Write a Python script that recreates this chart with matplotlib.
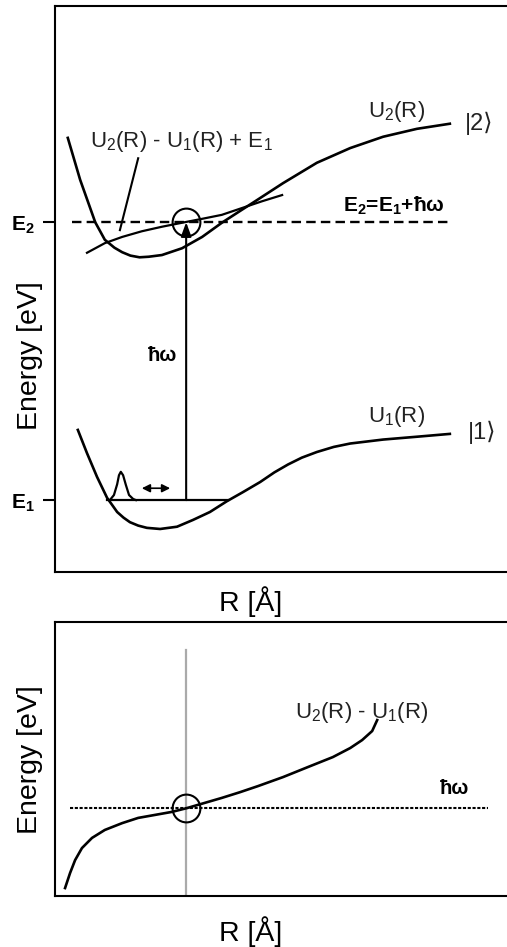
import matplotlib
matplotlib.use("Agg")
import matplotlib.pyplot as plt

plt.rcParams["font.family"] = ["Liberation Sans", "DejaVu Sans"]
plt.rcParams["mathtext.fontset"] = "custom"
plt.rcParams["mathtext.rm"] = "Liberation Sans"
plt.rcParams["mathtext.bf"] = "Liberation Sans:bold"

HBAR_OMEGA = "\u0127\u03c9"

# potential curves, arbitrary units (R along x, energy along y)
r_u2 = [0.28, 0.55, 0.88, 1.09, 1.30, 1.47, 1.65, 1.85, 2.05, 2.34, 2.78, 3.22, 3.65, 4.09, 4.38, 4.99, 5.73, 6.46, 7.18, 7.92, 8.64]
u2 = [7.67, 6.93, 6.18, 5.87, 5.73, 5.65, 5.59, 5.56, 5.57, 5.60, 5.72, 5.92, 6.17, 6.40, 6.55, 6.87, 7.23, 7.49, 7.69, 7.83, 7.92]

r_u1 = [0.50, 0.70, 0.92, 1.14, 1.36, 1.50, 1.64, 1.82, 2.01, 2.30, 2.67, 3.02, 3.39, 3.76, 4.11, 4.49, 4.80, 5.10, 5.40, 5.73, 6.10, 6.46, 7.18, 7.92, 8.64]
u1 = [2.51, 2.10, 1.68, 1.31, 1.06, 0.96, 0.88, 0.82, 0.78, 0.76, 0.80, 0.92, 1.06, 1.25, 1.41, 1.59, 1.76, 1.90, 2.02, 2.12, 2.21, 2.27, 2.34, 2.39, 2.44]

r_diff = [0.70, 1.09, 1.47, 1.90, 2.34, 2.84, 3.22, 3.65, 4.09, 4.53, 4.97]
u_diff = [5.64, 5.81, 5.92, 6.02, 6.10, 6.18, 6.24, 6.31, 6.43, 6.55, 6.66]

# vibrational wave packet sitting on E1
r_packet = [1.20, 1.29, 1.36, 1.40, 1.44, 1.49, 1.55, 1.62, 1.71, 1.77]
e_packet = [1.27, 1.36, 1.55, 1.71, 1.77, 1.71, 1.54, 1.36, 1.29, 1.27]

E1 = 1.27
E2 = 6.18
R0 = 2.87
e1_span = [1.14, 3.78]
e2_span = [0.37, 8.69]

# lower panel: difference potential U2 - U1
r_gap = [0.22, 0.33, 0.44, 0.59, 0.81, 1.09, 1.47, 1.82, 2.19, 2.56, 2.89, 3.28, 3.65, 4.05, 4.44, 4.99, 5.54, 6.08, 6.46, 6.72, 6.94, 7.05]
gap = [0.29, 0.84, 1.31, 1.75, 2.12, 2.41, 2.66, 2.85, 2.96, 3.07, 3.21, 3.40, 3.58, 3.79, 4.01, 4.34, 4.71, 5.07, 5.40, 5.69, 6.02, 6.42]
HW = 3.21
hw_span = [0.33, 9.47]

fig = plt.figure(figsize=(5.07, 9.47), dpi=100)
ax1 = fig.add_axes([55 / 507, 375 / 947, 457 / 507, 566 / 947])
ax2 = fig.add_axes([55 / 507, 51 / 947, 457 / 507, 274 / 947])

lw = 1.9
for ax in (ax1, ax2):
    ax.set_xlim(0, 10)
    ax.set_ylim(0, 10)
    ax.spines["right"].set_visible(False)
    for s in ("top", "left", "bottom"):
        ax.spines[s].set_linewidth(1.5)
    ax.set_xticks([])

# ---- top panel ----
ax1.plot(r_u2, u2, color="k", lw=lw)
ax1.plot(r_u1, u1, color="k", lw=lw)
ax1.plot(r_diff, u_diff, color="k", lw=1.6)
ax1.plot(e2_span, [E2, E2], color="k", lw=1.7, linestyle=(0, (4, 2.2)))
ax1.plot(e1_span, [E1, E1], color="k", lw=1.6)
ax1.plot(r_packet, e_packet, color="k", lw=1.6)
ax1.plot([R0], [E2], "o", ms=20, mfc="none", mec="k", mew=1.5)
ax1.annotate("", xy=(R0, E2), xytext=(R0, E1),
             arrowprops=dict(arrowstyle="-|>,head_length=0.6,head_width=0.22",
                             lw=1.5, color="k", mutation_scale=14, shrinkA=0, shrinkB=0))
ax1.annotate("", xy=(2.52, 1.48), xytext=(1.90, 1.48),
             arrowprops=dict(arrowstyle="<|-|>,head_length=0.6,head_width=0.3",
                             lw=1.2, color="k", mutation_scale=8, shrinkA=0, shrinkB=0))
ax1.plot([1.82, 1.42], [7.31, 6.04], color="k", lw=1.5)

ax1.set_yticks([E1, E2])
ax1.set_yticklabels([r"E$_{\mathbf{1}}$", r"E$_{\mathbf{2}}$"], fontsize=15, fontweight="bold")
ax1.tick_params(axis="y", length=8.5, width=1.5, direction="out", pad=6)

ax1.text(0.77, 7.61, r"U$_{\mathrm{2}}$(R) - U$_{\mathrm{1}}$(R) + E$_{\mathrm{1}}$",
         fontsize=16, color="#222222", va="center")
ax1.text(6.85, 8.14, r"U$_{\mathrm{2}}$(R)", fontsize=16, color="#222222", va="center")
ax1.text(6.85, 2.74, r"U$_{\mathrm{1}}$(R)", fontsize=16, color="#222222", va="center")
ax1.text(8.97, 7.92, "|2\u27e9", fontsize=17, color="#222222", va="center")
ax1.text(9.04, 2.46, "|1\u27e9", fontsize=17, color="#222222", va="center")
ax1.text(6.30, 6.48, r"E$_{\mathbf{2}}$=E$_{\mathbf{1}}$+" + HBAR_OMEGA,
         fontsize=15, fontweight="bold", va="center")
ax1.text(2.04, 3.83, HBAR_OMEGA, fontsize=14.5, fontweight="bold", va="center")

ax1.set_ylabel("Energy [eV]", fontsize=20.5)
ax1.yaxis.set_label_coords(-0.026, 0.382)
ax1.set_xlabel("R [\u00c5]", fontsize=20.5)
ax1.xaxis.set_label_coords(0.429, -0.025)

# ---- bottom panel ----
ax2.set_yticks([])
ax2.plot([R0, R0], [0, 8.98], color="#aaaaaa", lw=1.6)
ax2.plot(hw_span, [HW, HW], color="k", lw=1.5, linestyle=(0, (1.5, 0.8)))
ax2.plot(r_gap, gap, color="k", lw=lw)
ax2.plot([R0], [HW], "o", ms=20, mfc="none", mec="k", mew=1.5)
ax2.text(5.25, 6.68, r"U$_{\mathrm{2}}$(R) - U$_{\mathrm{1}}$(R)", fontsize=16,
         color="#222222", va="center")
ax2.text(8.42, 3.91, HBAR_OMEGA, fontsize=14.5, fontweight="bold", va="center")

ax2.set_ylabel("Energy [eV]", fontsize=20.5)
ax2.yaxis.set_label_coords(-0.026, 0.496)
ax2.set_xlabel("R [\u00c5]", fontsize=20.5)
ax2.xaxis.set_label_coords(0.429, -0.075)

fig.savefig("out.png", dpi=100)
